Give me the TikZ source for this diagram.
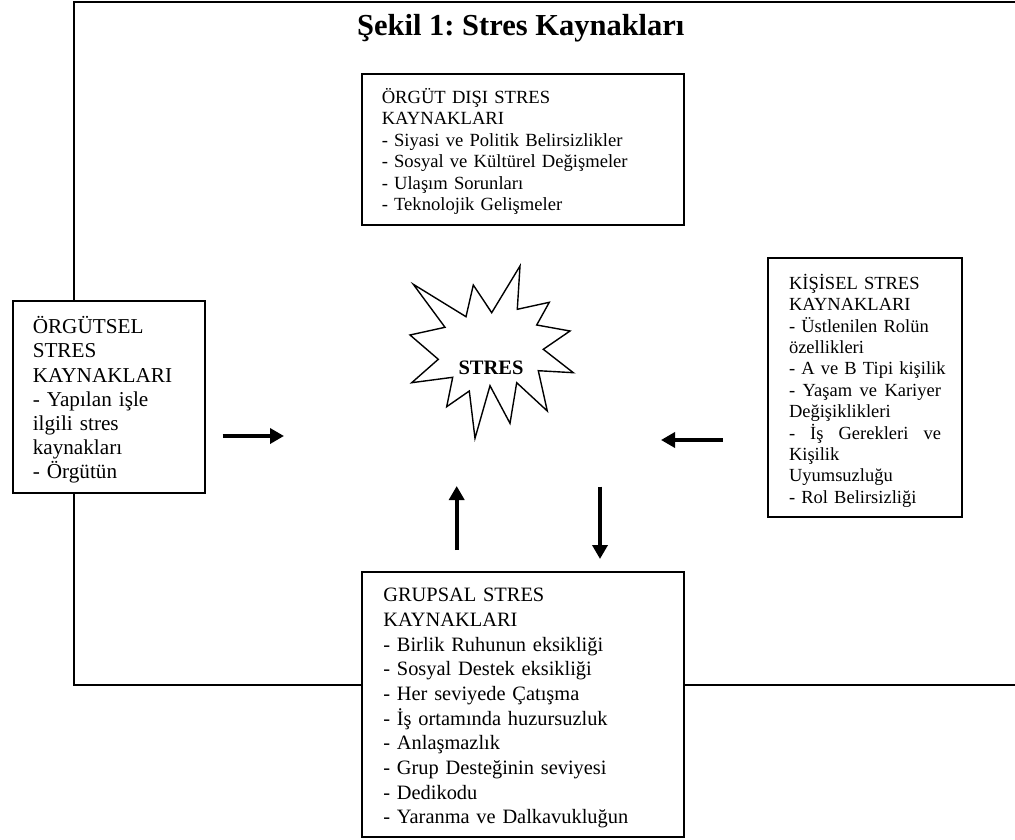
\documentclass[tikz,border=0pt]{standalone}
\usepackage{fontspec}
\setmainfont{Liberation Serif}
\usetikzlibrary{arrows.meta}
\frenchspacing
\begin{document}
\begin{tikzpicture}[x=1pt,y=-1pt,
  srcbox/.style={draw, line width=1.8pt, fill=white, align=left, inner ysep=0pt},
  fatarrow/.style={line width=3.6pt, -{Triangle[length=14pt,width=15pt]}},
  starline/.style={draw, line width=1.4pt, line join=miter, fill=white}]
\useasboundingbox (0,0) rectangle (1015,840);
% outer frame
\coordinate (ftr) at (1015,2.3);
\coordinate (ftl) at (74,2.3);
\coordinate (fbl) at (74,684.7);
\coordinate (fbr) at (1015,684.7);
\draw[line width=2pt] (ftr) -- (ftl) -- (fbl) -- (fbr);
% title
\node[font=\bfseries\fontsize{30.5}{36}\selectfont, inner sep=0pt, anchor=base] (title) at (520.8,35.5) {Şekil 1: Stres Kaynakları};
% top box
\node[srcbox, inner xsep=19.4pt, text width=282.9pt, minimum height=151pt,
      font=\fontsize{18.6}{21.5}\selectfont] (dis) at (523.2,149.5)
 {\rule{0pt}{18.5pt}ÖRGÜT DIŞI STRES\\KAYNAKLARI\\- Siyasi ve Politik Belirsizlikler\\- Sosyal ve Kültürel Değişmeler\\- Ulaşım Sorunları\\- Teknolojik Gelişmeler};
% right box
\node[srcbox, inner xsep=20.7pt, text width=152pt, minimum height=258.4pt,
      font=\fontsize{18.5}{21.4}\selectfont] (kisisel) at (865,387.5)
 {\rule{0pt}{21.5pt}\mbox{KİŞİSEL STRES}\\\mbox{KAYNAKLARI}\\\mbox{- Üstlenilen Rolün}\\\mbox{özellikleri}\\\mbox{- A ve B Tipi kişilik}\\\mbox{\hbox to 152pt{-\hfill Yaşam\hfill ve\hfill Kariyer}}\\\mbox{Değişiklikleri}\\\mbox{\hbox to 152pt{-\hfill İş\hfill Gerekleri\hfill ve}}\\\mbox{Kişilik}\\\mbox{Uyumsuzluğu}\\\mbox{- Rol Belirsizliği}};
% left box
\node[srcbox, inner xsep=20pt, text width=152.3pt, minimum height=192.6pt,
      font=\fontsize{21.2}{24.2}\selectfont] (orgutsel) at (108.9,397)
 {\rule{0pt}{23pt}ÖRGÜTSEL\\STRES\\KAYNAKLARI\\- Yapılan işle\\ilgili stres\\kaynakları\\- Örgütün};
% bottom box
\node[srcbox, inner xsep=21pt, text width=279.7pt, minimum height=265pt,
      font=\fontsize{20.4}{24.7}\selectfont] (grupsal) at (523.2,704.2)
 {\rule{0pt}{21.5pt}GRUPSAL STRES\\KAYNAKLARI\\- Birlik Ruhunun eksikliği\\- Sosyal Destek eksikliği\\- Her seviyede Çatışma\\- İş ortamında huzursuzluk\\- Anlaşmazlık\\- Grup Desteğinin seviyesi\\- Dedikodu\\- Yaranma ve Dalkavukluğun};
% star
\path[starline] (413.3,284.3) -- (466,316.7) -- (473.3,285) -- (491.7,312.7) -- (520,266)
  -- (517.3,309.3) -- (549.3,302.3) -- (536.7,325) -- (570,331) -- (543.3,349.3)
  -- (573.3,372.7) -- (538.3,370.7) -- (547.3,411) -- (516.7,382.7) -- (510,423.3)
  -- (490,385.7) -- (475,438.3) -- (469.3,391) -- (446.7,406.7) -- (452.7,377.3)
  -- (411.7,382.7) -- (438.3,359.3) -- (410,335) -- (445,327.3) -- cycle;
\node[font=\bfseries\fontsize{20.5}{24}\selectfont, inner sep=0pt, anchor=base] (stres) at (491,374.5) {STRES};
% arrows
\coordinate (aRs) at (222.7,436);
\coordinate (aRe) at (284,436);
\coordinate (aLs) at (722.7,440);
\coordinate (aLe) at (661,440);
\coordinate (aUs) at (456.7,550);
\coordinate (aUe) at (456.7,486);
\coordinate (aDs) at (600,486.7);
\coordinate (aDe) at (600,559);
\draw[fatarrow] (aRs) -- (aRe);
\draw[fatarrow] (aLs) -- (aLe);
\draw[fatarrow] (aUs) -- (aUe);
\draw[fatarrow] (aDs) -- (aDe);
\end{tikzpicture}
\end{document}
